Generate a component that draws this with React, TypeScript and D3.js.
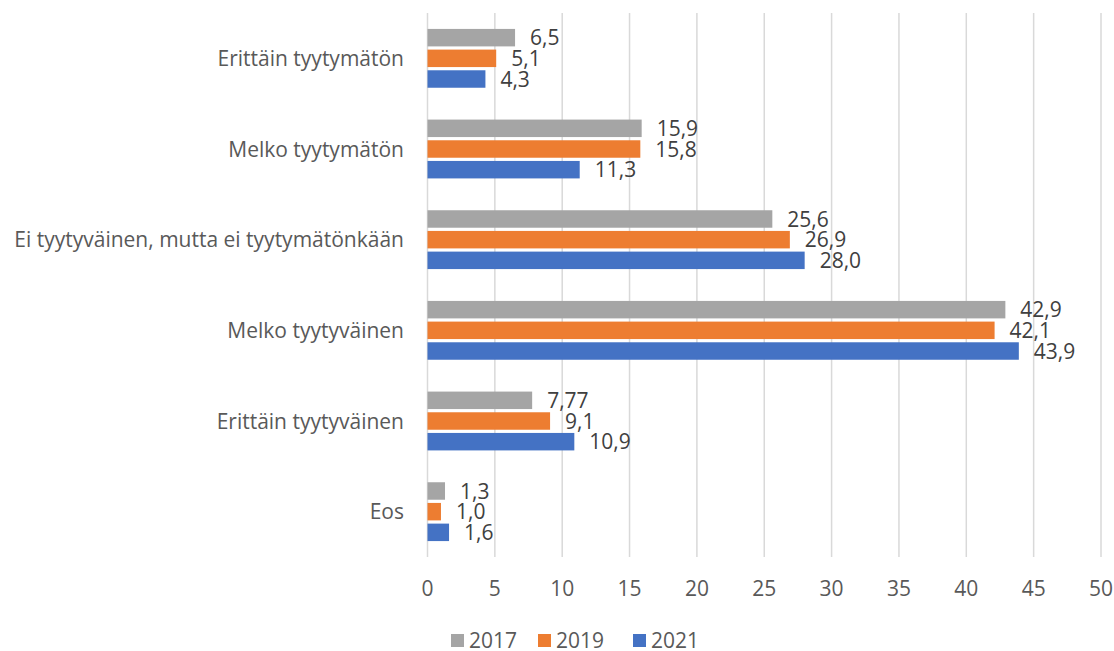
import * as d3 from 'd3';

const categories = [
  'Erittäin tyytymätön',
  'Melko tyytymätön',
  'Ei tyytyväinen, mutta ei tyytymätönkään',
  'Melko tyytyväinen',
  'Erittäin tyytyväinen',
  'Eos',
];
const seriesNames = ['2017', '2019', '2021'];
const values2017 = [6.5, 15.9, 25.6, 42.9, 7.77, 1.3];
const values2019 = [5.1, 15.8, 26.9, 42.1, 9.1, 1.0];
const values2021 = [4.3, 11.3, 28.0, 43.9, 10.9, 1.6];
const labels2017 = ['6,5', '15,9', '25,6', '42,9', '7,77', '1,3'];
const labels2019 = ['5,1', '15,8', '26,9', '42,1', '9,1', '1,0'];
const labels2021 = ['4,3', '11,3', '28,0', '43,9', '10,9', '1,6'];
const colors = ['#A5A5A5', '#ED7D31', '#4472C4'];
const xTicks = [0, 5, 10, 15, 20, 25, 30, 35, 40, 45, 50];

const WIDTH = 1114;
const HEIGHT = 651;
const PLOT = { left: 427.5, right: 1101, top: 13, bottom: 557 };
const FONT = '"Open Sans", Lato, sans-serif';
const FS = 21;

export default function App() {
  const series = [
    { name: seriesNames[0], values: values2017, labels: labels2017 },
    { name: seriesNames[1], values: values2019, labels: labels2019 },
    { name: seriesNames[2], values: values2021, labels: labels2021 },
  ];

  const x = d3.scaleLinear().domain([0, 50]).range([PLOT.left, PLOT.right]);
  const y = d3.scaleBand<string>().domain(categories).range([PLOT.top, PLOT.bottom]).padding(0);
  const inner = d3
    .scaleBand<string>()
    .domain(seriesNames)
    .range([0, y.bandwidth()])
    .paddingInner(0.155)
    .paddingOuter(0.77);

  const legendItems = [
    { name: '2017', x: 451 },
    { name: '2019', x: 538 },
    { name: '2021', x: 633 },
  ];

  return (
    <div style={{ position: 'fixed', left: 0, top: 0 }}>
      <svg width={WIDTH} height={HEIGHT} style={{ display: 'block', background: '#fff' }}>
        {/* Vertical gridlines */}
        {xTicks.map(t => (
          <line
            key={`g-${t}`}
            x1={x(t)}
            x2={x(t)}
            y1={PLOT.top}
            y2={PLOT.bottom}
            stroke="#D9D9D9"
            strokeWidth={1.5}
          />
        ))}

        {/* Bars */}
        {series.map((s, si) =>
          categories.map((c, ci) => (
            <rect
              key={`b-${si}-${ci}`}
              x={x(0)}
              y={(y(c) ?? 0) + (inner(s.name) ?? 0)}
              width={x(s.values[ci]) - x(0)}
              height={inner.bandwidth()}
              fill={colors[si]}
            />
          )),
        )}

        {/* Data labels */}
        {series.map((s, si) =>
          categories.map((c, ci) => (
            <text
              key={`l-${si}-${ci}`}
              x={x(s.values[ci]) + 15}
              y={(y(c) ?? 0) + (inner(s.name) ?? 0) + inner.bandwidth() / 2}
              dy="0.36em"
              fontFamily={FONT}
              fontSize={FS}
              fill="#404040"
            >
              {s.labels[ci]}
            </text>
          )),
        )}

        {/* Category labels */}
        {categories.map(c => (
          <text
            key={`c-${c}`}
            x={404}
            y={(y(c) ?? 0) + y.bandwidth() / 2}
            dy="0.36em"
            textAnchor="end"
            fontFamily={FONT}
            fontSize={FS}
            fill="#595959"
          >
            {c}
          </text>
        ))}

        {/* X tick labels */}
        {xTicks.map(t => (
          <text
            key={`t-${t}`}
            x={x(t)}
            y={588}
            dy="0.36em"
            textAnchor="middle"
            fontFamily={FONT}
            fontSize={FS}
            fill="#595959"
          >
            {t}
          </text>
        ))}

        {/* Legend */}
        {legendItems.map((l, i) => (
          <g key={`lg-${l.name}`}>
            <rect x={l.x} y={634} width={13} height={13} fill={colors[i]} />
            <text
              x={l.x + 18}
              y={640.5}
              dy="0.36em"
              fontFamily={FONT}
              fontSize={FS}
              fill="#595959"
            >
              {l.name}
            </text>
          </g>
        ))}
      </svg>
    </div>
  );
}
